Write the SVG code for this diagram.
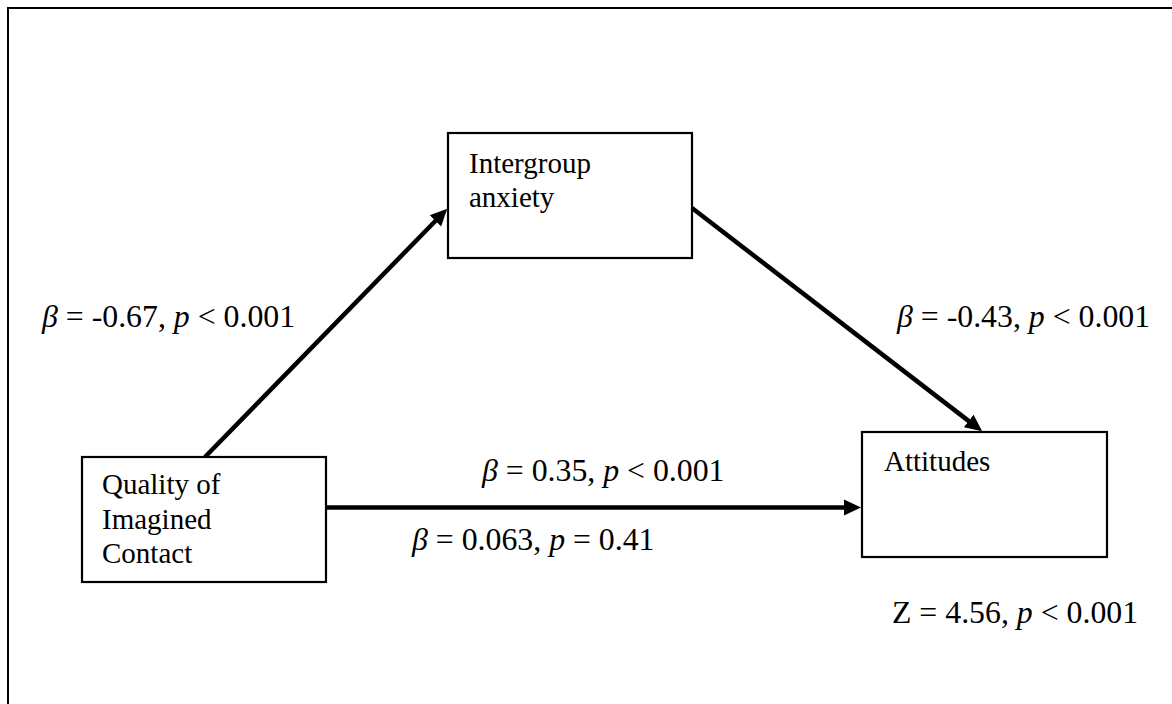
<svg xmlns="http://www.w3.org/2000/svg" width="1172" height="704" viewBox="0 0 1172 704">
<style>
.box{fill:#fff;stroke:#000;stroke-width:2.2}
.node{font-family:"Liberation Serif","Times New Roman",serif;font-size:29px;fill:#000}
.lbl{font-family:"Liberation Serif","Times New Roman",serif;font-size:31.8px;fill:#000}
.it{font-style:italic}
.conn{stroke:#000;stroke-width:4.5;fill:none;marker-end:url(#ah)}
</style>
<defs>
<marker id="ah" markerUnits="userSpaceOnUse" viewBox="0 -9 18 18" markerWidth="18" markerHeight="18" refX="1" refY="0" orient="auto">
<path d="M0,-8 L17,0 L0,8 z" fill="#000"/>
</marker>
</defs>
<rect x="8" y="8" width="1200" height="800" fill="#fff" stroke="#000" stroke-width="2"/>
<g id="connectors">
<line class="conn" x1="205" y1="457" x2="436.1" y2="220.2"/>
<line class="conn" x1="692" y1="208" x2="969.5" y2="421.6"/>
<line class="conn" x1="326" y1="507.5" x2="845" y2="507.5"/>
</g>
<g id="node-anxiety">
<rect class="box" x="448" y="133" width="244" height="125"/>
<text class="node" x="469" y="173">Intergroup</text>
<text class="node" x="469" y="207">anxiety</text>
</g>
<g id="node-quality">
<rect class="box" x="82" y="457" width="244" height="125"/>
<text class="node" x="102" y="494">Quality of</text>
<text class="node" x="102" y="529">Imagined</text>
<text class="node" x="102" y="563">Contact</text>
</g>
<g id="node-attitudes">
<rect class="box" x="862" y="432" width="245" height="125"/>
<text class="node" x="884" y="471">Attitudes</text>
</g>
<g id="labels">
<text class="lbl" x="42" y="327"><tspan class="it">β</tspan> = -0.67, <tspan class="it">p</tspan> &lt; 0.001</text>
<text class="lbl" x="897" y="327"><tspan class="it">β</tspan> = -0.43, <tspan class="it">p</tspan> &lt; 0.001</text>
<text class="lbl" x="482" y="481"><tspan class="it">β</tspan> = 0.35, <tspan class="it">p</tspan> &lt; 0.001</text>
<text class="lbl" x="412" y="550"><tspan class="it">β</tspan> = 0.063, <tspan class="it">p</tspan> = 0.41</text>
<text class="lbl" x="892" y="623">Z = 4.56, <tspan class="it">p</tspan> &lt; 0.001</text>
</g>
</svg>
